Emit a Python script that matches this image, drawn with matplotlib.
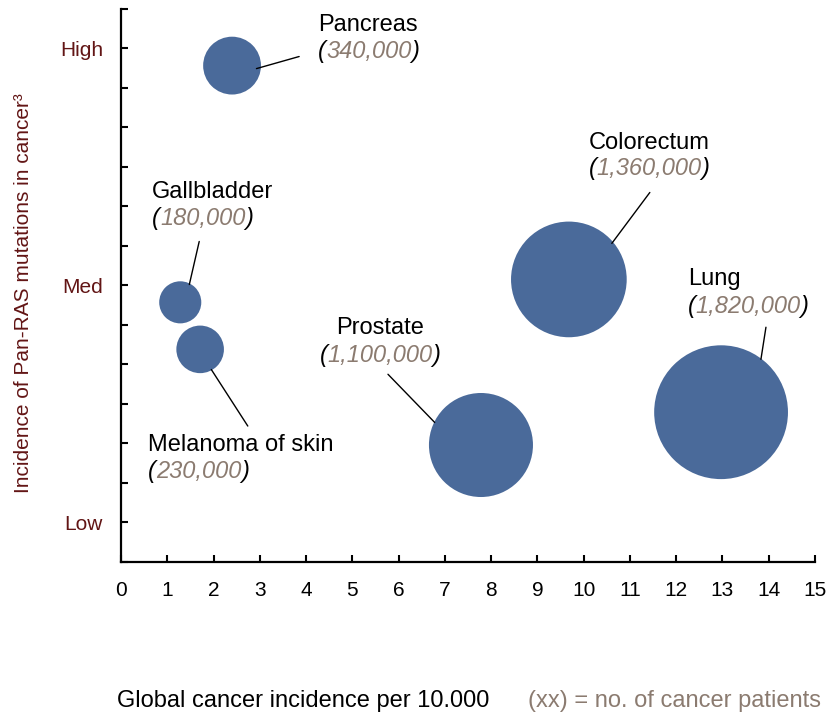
import numpy as np
import matplotlib
matplotlib.use('Agg')
import matplotlib.pyplot as plt
from matplotlib.transforms import offset_copy

plt.rcParams['font.family'] = ['Liberation Sans', 'DejaVu Sans']

# data
cancers = ['Pancreas', 'Gallbladder', 'Melanoma of skin', 'Prostate', 'Colorectum', 'Lung']
incidence = [2.40, 1.28, 1.71, 7.78, 9.68, 12.97]      # global incidence per 10.000
ras_level = [12.56, 6.57, 5.38, 2.96, 7.15, 3.79]      # scale 0-14 (Low=1, Med=7, High=13)
patients = [340000, 180000, 230000, 1100000, 1360000, 1820000]
x_ticks = list(range(0, 16))
y_tick_pos = [1, 7, 13]
y_tick_text = ['Low', 'Med', 'High']

# label layout: x, name baseline, number baseline, alignment,
# leader line outer end, leader angle on bubble (deg), fraction of radius
label_layout = {
    'Pancreas':         (4.26, 13.44, 12.74, 'left',   (3.85, 12.79), -7, 0.85),
    'Gallbladder':      (0.67, 9.22, 8.52, 'left',     (1.69, 8.11), 63, 0.95),
    'Melanoma of skin': (0.58, 2.80, 2.12, 'left',     (2.74, 3.44), -61, 0.97),
    'Prostate':         (5.60, 5.76, 5.05, 'center',   (5.77, 4.75), 154, 0.99),
    'Colorectum':       (11.41, 10.46, 9.78, 'center', (11.43, 9.35), 40, 0.97),
    'Lung':             (12.25, 7.00, 6.29, 'left',    (13.94, 5.94), 53, 0.99),
}

bubble_col = '#4A6A9A'
maroon = '#621515'
grey_brown = '#8B7B70'
size_k = 0.0051

fig = plt.figure(figsize=(8.37, 7.13), dpi=100)
ax = fig.add_axes([0.1446, 0.2118, 0.8291, 0.7760])

sizes = np.array(patients) * size_k
ax.scatter(incidence, ras_level, s=sizes, color=bubble_col, edgecolors='none', zorder=2)

for name, bx, by, p, s in zip(cancers, incidence, ras_level, patients, sizes):
    lx, yn, yv, ha, outer, ang, frac = label_layout[name]
    r_pts = np.sqrt(s) / 2 * frac
    inner = offset_copy(ax.transData, fig=fig, units='points',
                        x=r_pts * np.cos(np.radians(ang)),
                        y=r_pts * np.sin(np.radians(ang)))
    ax.annotate('', xy=(bx, by), xycoords=inner, xytext=outer, textcoords='data',
                arrowprops=dict(arrowstyle='-', color='black', lw=1,
                                shrinkA=0, shrinkB=0), zorder=3)
    ax.text(lx, yn, name, ha=ha, va='baseline', fontsize=17, color='black')
    num = f'{p:,}'
    style = dict(fontsize=17, fontstyle='italic')
    if ha == 'left':
        t1 = ax.text(lx, yv, '(', ha='left', va='baseline', color='black', **style)
        t2 = ax.annotate(num, xy=(1, 0), xycoords=t1, ha='left', va='bottom',
                         color=grey_brown, **style)
    else:
        t2 = ax.text(lx, yv, num, ha='center', va='baseline', color=grey_brown, **style)
        ax.annotate('(', xy=(0, 0), xycoords=t2, ha='right', va='bottom',
                    color='black', **style)
    ax.annotate(')', xy=(1, 0), xycoords=t2, ha='left', va='bottom',
                color='black', **style)

ax.set_xlim(0, 15)
ax.set_ylim(0, 14)
ax.spines['top'].set_visible(False)
ax.spines['right'].set_visible(False)
for sp in ['left', 'bottom']:
    ax.spines[sp].set_linewidth(1.6)

ax.set_xticks(x_ticks)
ax.set_xticklabels([str(v) for v in x_ticks])
ax.set_yticks(range(0, 15))
ylabels = ['' for _ in range(15)]
for pos, txt in zip(y_tick_pos, y_tick_text):
    ylabels[pos] = txt
ax.set_yticklabels(ylabels)
ax.tick_params(axis='both', direction='in', length=5, width=1.5)
ax.tick_params(axis='x', labelsize=15, pad=14)
ax.tick_params(axis='y', labelsize=15, pad=13, labelcolor=maroon)

ax.set_ylabel('Incidence of Pan-RAS mutations in cancer\u00b3', fontsize=15, color=maroon)
ax.yaxis.set_label_coords(-0.127, 0.486)

fig.text(117 / 837, 6 / 713, 'Global cancer incidence per 10.000', fontsize=17,
         ha='left', va='baseline', color='black')
fig.text(528 / 837, 6 / 713, '(xx) = no. of cancer patients', fontsize=17,
         ha='left', va='baseline', color=grey_brown)

fig.savefig('out.png', dpi=100)
